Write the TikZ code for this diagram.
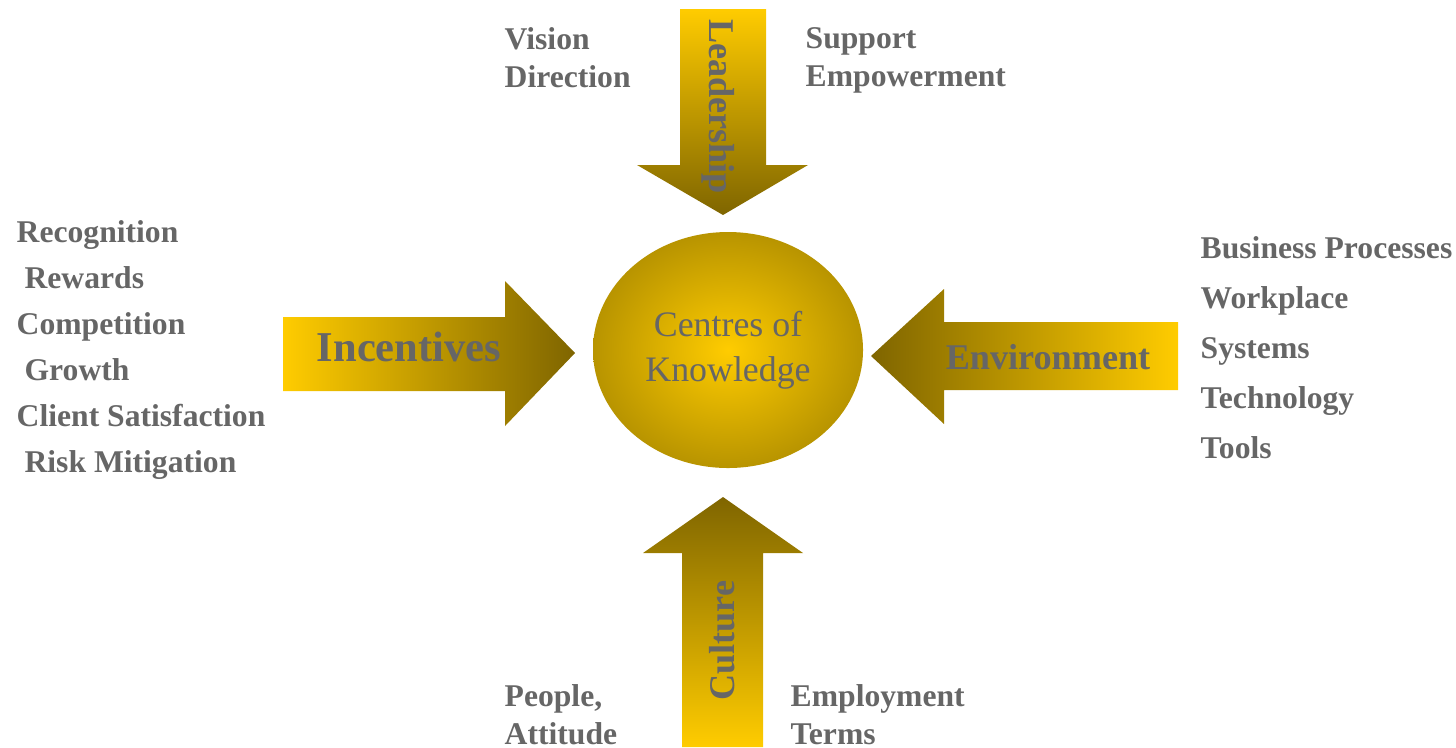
\documentclass[tikz,border=0pt]{standalone}
\usepackage{fontspec}
\setmainfont{Liberation Serif}
\usetikzlibrary{shapes.geometric}
\definecolor{goldlight}{HTML}{FFCC00}
\definecolor{golddark}{HTML}{7F6500}
\definecolor{goldrim}{HTML}{B89400}
\definecolor{labelgray}{HTML}{666666}
\tikzset {
  factor style/.style = {
    font=\bfseries\fontsize{9}{13.1}\selectfont,
    text=labelgray,
    align=left,
    inner sep=0pt,
    anchor=north west
  },
  force style/.style = {
    font=\bfseries\fontsize{10.3}{12}\selectfont,
    text=labelgray,
    inner sep=0pt
  },
  centre style/.style = {
    ellipse,
    minimum width=2.70cm,
    minimum height=2.36cm,
    inner color=goldlight,
    outer color=goldrim,
    text=labelgray,
    align=center,
    font=\fontsize{10.2}{12.8}\selectfont
  }
}

\begin{document}
\begin{tikzpicture}

\useasboundingbox (0,0) rectangle (14.56,-7.47);

% --- Arrows ---
\shade[top color=goldlight, bottom color=golddark]
  (6.80,-0.09) -- (7.66,-0.09) -- (7.66,-1.65) -- (8.08,-1.65)
  -- (7.23,-2.15) -- (6.37,-1.65) -- (6.80,-1.65) -- cycle;
\shade[left color=goldlight, right color=golddark]
  (2.83,-3.17) -- (5.05,-3.17) -- (5.05,-2.81) -- (5.75,-3.53)
  -- (5.05,-4.26) -- (5.05,-3.91) -- (2.83,-3.91) -- cycle;
\shade[left color=golddark, right color=goldlight]
  (8.71,-3.56) -- (9.44,-2.89) -- (9.44,-3.22) -- (11.78,-3.22)
  -- (11.78,-3.90) -- (9.44,-3.90) -- (9.44,-4.24) -- cycle;
\shade[top color=golddark, bottom color=goldlight]
  (7.23,-4.97) -- (8.03,-5.53) -- (7.63,-5.53) -- (7.63,-7.47)
  -- (6.82,-7.47) -- (6.82,-5.53) -- (6.43,-5.53) -- cycle;

% --- Centre ---
\node[centre style] (centre) at (7.28,-3.50) {Centres of\\Knowledge};

% --- Forces ---
\node[force style, rotate=-90] (leadership) at (7.18,-1.065) {Leadership};
\node[force style, font=\bfseries\fontsize{12.1}{14}\selectfont] (incentives) at (4.09,-3.47) {Incentives};
\node[force style] (environment) at (10.48,-3.57) {Environment};
\node[force style, rotate=90] (culture) at (7.225,-6.405) {Culture};

% --- Factors ---
\node[factor style, font=\bfseries\fontsize{9}{10.8}\selectfont] (vision) at (5.04,-0.27) {Vision\\Direction};
\node[factor style, font=\bfseries\fontsize{9}{10.8}\selectfont] (support) at (8.05,-0.27) {Support\\Empowerment};
\node[factor style] (recognition) at (0.16,-2.20)
  {Recognition\\~Rewards\\Competition\\~Growth\\Client Satisfaction\\~Risk Mitigation};
\node[factor style, font=\bfseries\fontsize{9}{14.2}\selectfont] (business) at (12.00,-2.36)
  {Business Processes\\Workplace\\Systems\\Technology\\Tools};
\node[factor style, font=\bfseries\fontsize{9}{10.8}\selectfont] (people) at (5.04,-6.84) {People,\\Attitude};
\node[factor style, font=\bfseries\fontsize{9}{10.8}\selectfont] (employment) at (7.90,-6.84) {Employment\\Terms};

\end{tikzpicture}
\end{document}
